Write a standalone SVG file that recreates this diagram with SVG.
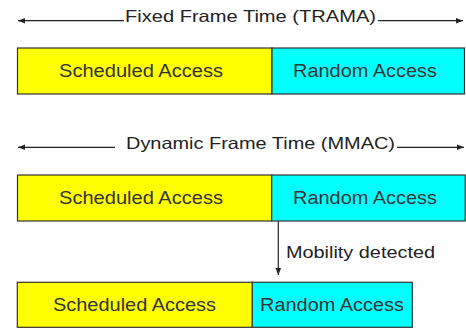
<svg xmlns="http://www.w3.org/2000/svg" width="466" height="329" viewBox="0 0 466 329">
<defs>
<marker id="ah" viewBox="0 0 10 10" refX="10" refY="5" markerWidth="7" markerHeight="7" markerUnits="userSpaceOnUse" orient="auto-start-reverse">
<path d="M0,1 L10,5 L0,9 z" fill="#222"/>
</marker>
<style>
.sa{fill:#ffff00;stroke:#333;stroke-width:1.2}
.ra{fill:#00ffff;stroke:#333;stroke-width:1.2}
.t{font-family:"Liberation Sans",Arial,sans-serif;font-size:18px;fill:#333}
.h{font-family:"Liberation Sans",Arial,sans-serif;font-size:16.5px;fill:#222}
.ln{stroke:#222;stroke-width:1.2;fill:none}
</style>
</defs>
<rect width="466" height="329" fill="#fff"/>
<g id="connectors">
<line class="ln" x1="124" y1="20.7" x2="18" y2="20.7" marker-end="url(#ah)"/>
<line class="ln" x1="378" y1="20.7" x2="463" y2="20.7" marker-end="url(#ah)"/>
<line class="ln" x1="115" y1="147.3" x2="18" y2="147.3" marker-end="url(#ah)"/>
<line class="ln" x1="397" y1="147.3" x2="464" y2="147.3" marker-end="url(#ah)"/>
<line class="ln" x1="278.3" y1="221" x2="278.3" y2="275" marker-end="url(#ah)"/>
</g>
<g id="title1"><text class="h" x="125" y="21.5" textLength="251" lengthAdjust="spacingAndGlyphs">Fixed Frame Time (TRAMA)</text></g>
<g id="title2"><text class="h" x="126" y="149" textLength="269" lengthAdjust="spacingAndGlyphs">Dynamic Frame Time (MMAC)</text></g>
<g id="frame1">
<rect class="sa" x="17.5" y="48" width="254.5" height="46"/>
<rect class="ra" x="272" y="48" width="192.5" height="46"/>
<text class="t" x="59" y="77" textLength="164" lengthAdjust="spacingAndGlyphs">Scheduled Access</text>
<text class="t" x="293" y="77" textLength="144" lengthAdjust="spacingAndGlyphs">Random Access</text>
</g>
<g id="frame2">
<rect class="sa" x="17.5" y="175" width="254.2" height="46"/>
<rect class="ra" x="271.7" y="175" width="193.5" height="46"/>
<text class="t" x="59" y="204" textLength="164" lengthAdjust="spacingAndGlyphs">Scheduled Access</text>
<text class="t" x="293" y="204" textLength="144" lengthAdjust="spacingAndGlyphs">Random Access</text>
</g>
<g id="mobility"><text class="h" x="286" y="258" textLength="149" lengthAdjust="spacingAndGlyphs">Mobility detected</text></g>
<g id="frame3">
<rect class="sa" x="17.3" y="282.3" width="235" height="45"/>
<rect class="ra" x="252.3" y="282.3" width="160" height="45"/>
<text class="t" x="53" y="311" textLength="163" lengthAdjust="spacingAndGlyphs">Scheduled Access</text>
<text class="t" x="260" y="311" textLength="144" lengthAdjust="spacingAndGlyphs">Random Access</text>
</g>
</svg>
